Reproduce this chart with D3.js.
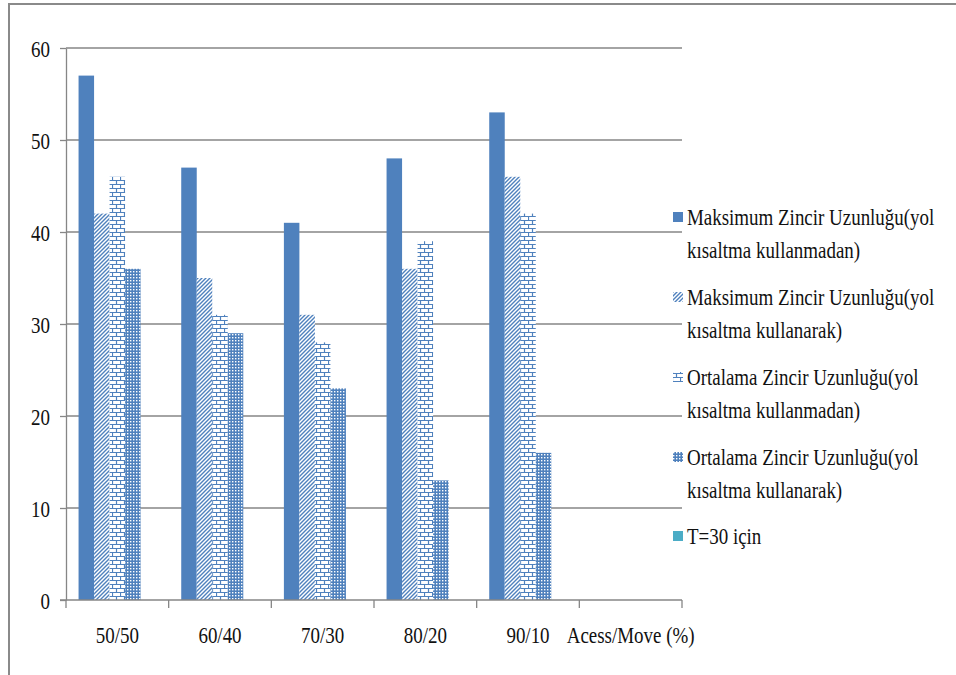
<!DOCTYPE html>
<html>
<head>
<meta charset="utf-8">
<script src="https://cdn.jsdelivr.net/npm/d3@7"></script>
<style>
  html, body { margin: 0; padding: 0; background: #fff; }
  svg { display: block; }
</style>
</head>
<body>
<svg id="chart" width="956" height="675"></svg>
<script>
// Access/move ratio groups; the last slot only carries the axis title
const categories = ["50/50", "60/40", "70/30", "80/20", "90/10", "Acess/Move (%)"];

const seriesNames = [
  "Maksimum Zincir Uzunluğu(yol kısaltma kullanmadan)",
  "Maksimum Zincir Uzunluğu(yol kısaltma kullanarak)",
  "Ortalama Zincir Uzunluğu(yol kısaltma kullanmadan)",
  "Ortalama Zincir Uzunluğu(yol kısaltma kullanarak)",
  "T=30 için"
];

// Legend text broken into lines as drawn
const legendLines = [
  ["Maksimum Zincir Uzunluğu(yol", "kısaltma kullanmadan)"],
  ["Maksimum Zincir Uzunluğu(yol", "kısaltma kullanarak)"],
  ["Ortalama Zincir Uzunluğu(yol", "kısaltma kullanmadan)"],
  ["Ortalama Zincir Uzunluğu(yol", "kısaltma kullanarak)"],
  ["T=30 için"]
];

const maxNoCompress   = [57, 47, 41, 48, 53, null];
const maxCompress     = [42, 35, 31, 36, 46, null];
const avgNoCompress   = [46, 31, 28, 39, 42, null];
const avgCompress     = [36, 29, 23, 13, 16, null];
const t30             = [null, null, null, null, null, null];

const seriesValues = [maxNoCompress, maxCompress, avgNoCompress, avgCompress, t30];

const yTicks = [0, 10, 20, 30, 40, 50, 60];

const svg = d3.select("#chart");
const blue = "#4F81BD";
const teal = "#4BACC6";
const gridColor = "#868686";
const FONT = '"Liberation Serif"';
const FS = 24;
const sx = 0.79; // horizontal text squeeze

// ---- fill patterns ----
const defs = svg.append("defs");

const diag = defs.append("pattern").attr("id", "p-diag")
  .attr("patternUnits", "userSpaceOnUse").attr("width", 4).attr("height", 4);
diag.append("rect").attr("width", 4).attr("height", 4).attr("fill", "#fff");
diag.append("path").attr("d", "M-1,1 L1,-1 M0,4 L4,0 M3,5 L5,3")
  .attr("stroke", blue).attr("stroke-width", 1.4);

const brick = defs.append("pattern").attr("id", "p-brick")
  .attr("patternUnits", "userSpaceOnUse").attr("width", 8).attr("height", 8);
brick.append("rect").attr("width", 8).attr("height", 8).attr("fill", "#fff");
brick.append("path").attr("d", "M0,0.5 H8 M0,4.5 H8 M0.5,0.5 V4.5 M4.5,4.5 V8.5")
  .attr("stroke", blue).attr("stroke-width", 1.2).attr("fill", "none");

const dots = defs.append("pattern").attr("id", "p-dots")
  .attr("patternUnits", "userSpaceOnUse").attr("width", 3).attr("height", 3);
dots.append("rect").attr("width", 3).attr("height", 3).attr("fill", blue);
dots.append("rect").attr("x", 1).attr("y", 1).attr("width", 1.4).attr("height", 1.4).attr("fill", "#fff");

const fills = [blue, "url(#p-diag)", "url(#p-brick)", "url(#p-dots)", teal];

// ---- outer frame ----
svg.append("path").attr("d", "M9,675 V4 H956")
  .attr("fill", "none").attr("stroke", "#8a8a8a").attr("stroke-width", 2);

// ---- scales ----
const x = d3.scaleBand().domain(categories).range([66, 682]).paddingInner(0).paddingOuter(0);
const xs = d3.scaleBand().domain(seriesNames).range([0, x.bandwidth()]).paddingInner(0).paddingOuter(0.81);
const y = d3.scaleLinear().domain([0, 60]).range([600, 48]);

// ---- gridlines ----
svg.append("g").selectAll("line").data(yTicks.filter(d => d > 0)).join("line")
  .attr("x1", 66).attr("x2", 682)
  .attr("y1", d => y(d)).attr("y2", d => y(d))
  .attr("stroke", gridColor).attr("stroke-width", 1.3);

// ---- bars ----
const groups = svg.append("g").selectAll("g").data(seriesValues).join("g")
  .attr("fill", (d, i) => fills[i]);
groups.each(function(vals, si) {
  d3.select(this).selectAll("rect")
    .data(vals.map((v, ci) => ({ v, c: categories[ci] })).filter(d => d.v != null))
    .join("rect")
    .attr("x", d => x(d.c) + xs(seriesNames[si]))
    .attr("width", xs.bandwidth())
    .attr("y", d => y(d.v))
    .attr("height", d => y(0) - y(d.v));
});

// ---- y axis ----
const yAxis = svg.append("g").attr("transform", "translate(66,0)")
  .call(d3.axisLeft(y).tickValues(yTicks).tickSize(6).tickPadding(10).tickSizeOuter(0));
yAxis.attr("font-family", null).attr("font-size", null);
yAxis.select(".domain").attr("stroke", gridColor).attr("stroke-width", 1.3);
yAxis.selectAll(".tick line").attr("stroke", gridColor).attr("stroke-width", 1.3);
yAxis.selectAll(".tick text")
  .style("font-family", FONT).style("font-size", FS + "px").attr("fill", "#111")
  .attr("dy", "0.34em")
  .attr("transform", function() {
    const xx = +d3.select(this).attr("x");
    return `translate(${xx * (1 - sx)},0) scale(${sx},1)`;
  });

// ---- x axis ----
const xAxis = svg.append("g").attr("transform", "translate(0,600)");
xAxis.append("line").attr("x1", 60).attr("x2", 682).attr("y1", 0).attr("y2", 0)
  .attr("stroke", gridColor).attr("stroke-width", 1.3);
const bounds = categories.map(c => x(c)).concat([x.range()[1]]);
xAxis.selectAll("line.b").data(bounds).join("line").attr("class", "b")
  .attr("x1", d => d).attr("x2", d => d).attr("y1", 0).attr("y2", 8)
  .attr("stroke", gridColor).attr("stroke-width", 1.3);
xAxis.selectAll("text").data(categories).join("text")
  .attr("text-anchor", "middle")
  .style("font-family", FONT).style("font-size", FS + "px").attr("fill", "#111")
  .attr("transform", d => `translate(${x(d) + x.bandwidth() / 2},43) scale(${sx},1)`)
  .text(d => d);

// ---- legend ----
const legend = svg.append("g");
const itemTop = [217, 297, 377, 457, 536];
legendLines.forEach((lines, i) => {
  const g = legend.append("g").attr("transform", `translate(0,${itemTop[i]})`);
  g.append("rect").attr("x", 673).attr("y", -5).attr("width", 10).attr("height", 10)
    .attr("fill", fills[i]);
  lines.forEach((ln, j) => {
    g.append("text")
      .style("font-family", FONT).style("font-size", FS + "px").attr("fill", "#111")
      .attr("transform", `translate(687,${j * 33 + 8}) scale(${sx},1)`)
      .text(ln);
  });
});
</script>
</body>
</html>
